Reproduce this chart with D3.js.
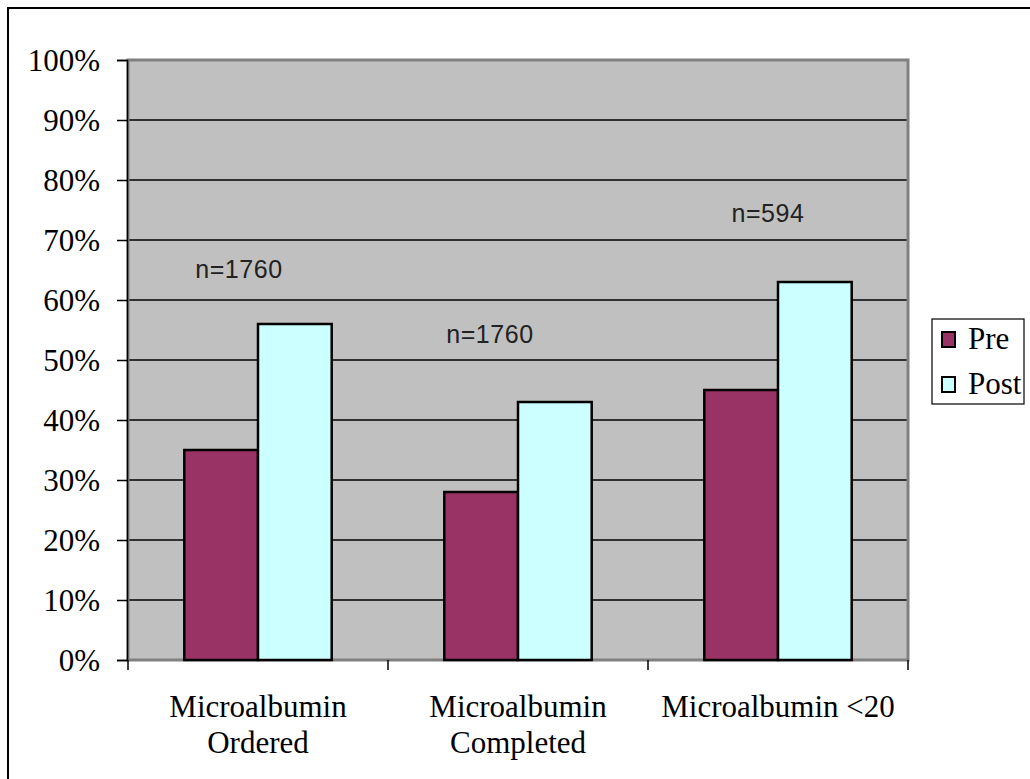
<!DOCTYPE html>
<html>
<head>
<meta charset="utf-8">
<script src="https://cdn.jsdelivr.net/npm/d3@7/dist/d3.min.js"></script>
<style>
  html, body { margin: 0; padding: 0; background: #fff; }
  svg { display: block; }
</style>
</head>
<body>
<svg id="chart" width="1030" height="779"></svg>
<script>
// Category labels (each array entry is one line of the axis label)
const categories = ["Microalbumin Ordered", "Microalbumin Completed", "Microalbumin <20"];
const categoryLines = [["Microalbumin", "Ordered"], ["Microalbumin", "Completed"], ["Microalbumin <20"]];
const seriesNames = ["Pre", "Post"];
// Percent of patients, per category
const preValues = [35, 28, 45];
const postValues = [56, 43, 63];
const yTicks = [0, 10, 20, 30, 40, 50, 60, 70, 80, 90, 100];
// Sample-size notes written above each group
const sampleNotes = ["n=1760", "n=1760", "n=594"];

const colors = { Pre: "#993366", Post: "#CCFFFF" };

const svg = d3.select("#chart");
const W = 1030, H = 779;

// outer frame
svg.append("rect")
  .attr("x", 8).attr("y", 8)
  .attr("width", W).attr("height", H)
  .attr("fill", "#fff").attr("stroke", "#000").attr("stroke-width", 2);

const plot = { left: 128, right: 908, top: 60, bottom: 660 };

const x0 = d3.scaleBand().domain(categories).range([plot.left, plot.right]).padding(0);
const x1 = d3.scaleBand().domain(seriesNames).range([0, x0.bandwidth()])
  .paddingInner(0).paddingOuter(0.764);
const y = d3.scaleLinear().domain([0, 100]).range([plot.bottom, plot.top]);

// plot background
svg.append("rect")
  .attr("x", plot.left).attr("y", plot.top)
  .attr("width", plot.right - plot.left).attr("height", plot.bottom - plot.top)
  .attr("fill", "#C0C0C0");

// horizontal gridlines
svg.append("g").selectAll("line")
  .data(yTicks.filter(d => d > 0 && d < 100))
  .join("line")
  .attr("x1", plot.left).attr("x2", plot.right)
  .attr("y1", d => y(d)).attr("y2", d => y(d))
  .attr("stroke", "#000").attr("stroke-width", 1.5);

// plot area border
svg.append("rect")
  .attr("x", plot.left).attr("y", plot.top)
  .attr("width", plot.right - plot.left).attr("height", plot.bottom - plot.top)
  .attr("fill", "none").attr("stroke", "#808080").attr("stroke-width", 3);

// bars
const rows = categories.map((c, i) => ({ cat: c, Pre: preValues[i], Post: postValues[i] }));
const groups = svg.append("g").selectAll("g")
  .data(rows).join("g")
  .attr("transform", d => `translate(${x0(d.cat)},0)`);
groups.selectAll("rect")
  .data(d => seriesNames.map(s => ({ s, v: d[s] })))
  .join("rect")
  .attr("x", d => x1(d.s))
  .attr("y", d => y(d.v))
  .attr("width", x1.bandwidth())
  .attr("height", d => y(0) - y(d.v))
  .attr("fill", d => colors[d.s])
  .attr("stroke", "#000").attr("stroke-width", 2.5);

// y axis
const yAxis = svg.append("g")
  .attr("transform", `translate(${plot.left - 1},0)`)
  .call(d3.axisLeft(y).tickValues(yTicks).tickFormat(d => d + "%").tickSizeOuter(0).tickSize(10).tickPadding(17));
yAxis.select(".domain").attr("stroke", "#000").attr("stroke-width", 1.5);
yAxis.selectAll(".tick line").attr("stroke", "#000").attr("stroke-width", 1.5);
yAxis.selectAll(".tick text")
  .attr("font-family", "'Liberation Serif', 'Times New Roman', serif")
  .attr("font-size", 31).attr("fill", "#000").attr("dy", "0.33em");

// x axis ticks at category boundaries
const bounds = categories.map(c => x0(c)).concat([plot.right]);
svg.append("g").selectAll("line")
  .data(bounds).join("line")
  .attr("x1", d => d).attr("x2", d => d)
  .attr("y1", plot.bottom).attr("y2", plot.bottom + 10)
  .attr("stroke", "#000").attr("stroke-width", 1.5);

// category labels
const labels = svg.append("g").selectAll("text")
  .data(categories.map((c, i) => ({ c, lines: categoryLines[i] })))
  .join("text")
  .attr("text-anchor", "middle")
  .attr("font-family", "'Liberation Serif', 'Times New Roman', serif")
  .attr("font-size", 31).attr("fill", "#000")
  .attr("transform", d => `translate(${x0(d.c) + x0.bandwidth() / 2},717)`);
labels.selectAll("tspan")
  .data(d => d.lines).join("tspan")
  .attr("x", 0).attr("y", (d, i) => i * 36)
  .text(d => d);

// sample-size notes (value-axis height and offset from group centre)
const noteLevel = [63.7, 52.8, 73];
const noteShift = [-19, -28, -10];
svg.append("g").selectAll("text")
  .data(sampleNotes).join("text")
  .attr("x", (d, i) => x0(categories[i]) + x0.bandwidth() / 2 + noteShift[i])
  .attr("y", (d, i) => y(noteLevel[i]))
  .attr("text-anchor", "middle")
  .attr("font-family", "'Liberation Sans', Arial, sans-serif")
  .attr("font-size", 25).attr("letter-spacing", 0.6).attr("fill", "#222")
  .text(d => d);

// legend
const legend = svg.append("g").attr("transform", "translate(932,319)");
legend.append("rect")
  .attr("width", 92).attr("height", 85)
  .attr("fill", "#fff").attr("stroke", "#000").attr("stroke-width", 1.2);
const items = legend.selectAll("g.item")
  .data(seriesNames).join("g").attr("class", "item")
  .attr("transform", (d, i) => `translate(10,${13 + i * 45})`);
items.append("rect")
  .attr("width", 13).attr("height", 15)
  .attr("fill", d => colors[d]).attr("stroke", "#000").attr("stroke-width", 2);
items.append("text")
  .attr("x", 26).attr("y", 17)
  .attr("font-family", "'Liberation Serif', 'Times New Roman', serif")
  .attr("font-size", 31).attr("fill", "#000")
  .text(d => d);
</script>
</body>
</html>
